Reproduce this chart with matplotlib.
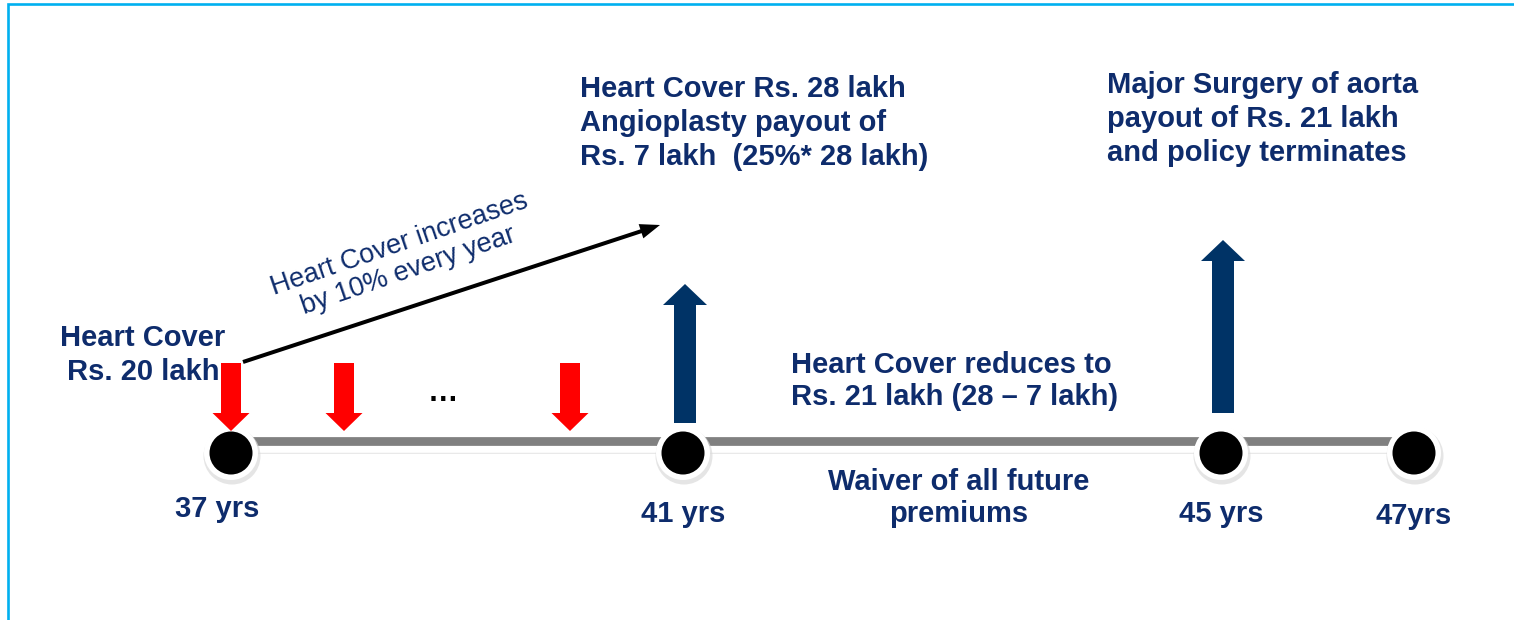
import matplotlib
matplotlib.use("Agg")
import matplotlib.pyplot as plt
from matplotlib.patches import Circle, FancyArrow
import numpy as np

plt.rcParams["font.family"] = ["Liberation Sans", "DejaVu Sans"]

# ── data ──────────────────────────────────────────────────────────────
node_ages    = [37, 41, 45, 47]
node_labels  = ["37 yrs", "41 yrs", "45 yrs", "47yrs"]
premium_ages = [37, 38, 40]            # red arrows (premiums paid)
claim_ages   = [41, 45]                # blue arrows (payouts)
claim_texts  = [
    "Heart Cover Rs. 28 lakh\nAngioplasty payout of\nRs. 7 lakh  (25%* 28 lakh)",
    "Major Surgery of aorta\npayout of Rs. 21 lakh\nand policy terminates",
]
start_text   = "Heart Cover\nRs. 20 lakh"
growth_text  = "Heart Cover increases\nby 10% every year"
reduce_text  = "Heart Cover reduces to\nRs. 21 lakh (28 \u2013 7 lakh)"
waiver_text  = "Waiver of all future\npremiums"

# ── layout (pixels) ───────────────────────────────────────────────────
node_px   = [231, 683, 1221, 1414]     # where each node age sits
line_y    = 441
dot_y     = 453
claim_top = [284, 240]
claim_bot = [423, 413]

NAVY  = "#0E2C6C"
ARROW = "#003366"
RED   = "#FF0000"
GREY  = "#808080"


def xpos(age):
    return np.interp(age, node_ages, node_px)


fig = plt.figure(figsize=(15.14, 6.2), dpi=100)
ax = fig.add_axes([0, 0, 1, 1])
ax.set_xlim(0, 1514)
ax.set_ylim(620, 0)
ax.axis("off")

# frame
ax.plot([7.5, 7.5, 1514], [620, 4, 4], color="#00B0F0", lw=1.9,
        solid_capstyle="butt", solid_joinstyle="miter")

# timeline
x0, x1 = xpos(node_ages[0]), xpos(node_ages[-1])
ax.plot([x0, x1], [line_y + 10, line_y + 10], color="#e3e3e3", lw=4,
        solid_capstyle="butt", zorder=1)
ax.plot([x0, x1], [line_y + 4, line_y + 4], color="white", lw=10.5,
        solid_capstyle="butt", zorder=2)
ax.plot([x0, x1], [line_y, line_y], color=GREY, lw=6.3,
        solid_capstyle="butt", zorder=3)

for age in node_ages:
    cx = xpos(age)
    ax.add_patch(Circle((cx + 1, dot_y + 3), 28.5, color="#dadada",
                        alpha=0.7, zorder=4, lw=0))
    ax.add_patch(Circle((cx, dot_y), 27, color="white", zorder=5, lw=0))
    ax.add_patch(Circle((cx, dot_y), 21.5, color="black", zorder=6, lw=0))

label_dy = [56, 61, 61, 63]
label_dx = [-14, 0, 0, 0]
for age, lab, dy, dx in zip(node_ages, node_labels, label_dy, label_dx):
    ax.text(xpos(age) + dx, dot_y + dy, lab, ha="center", va="center",
            fontsize=21, fontweight="bold", color=NAVY)

# premium arrows
for age in premium_ages:
    ax.add_patch(FancyArrow(xpos(age), 363, 0, 68, width=20,
                            head_width=37, head_length=18,
                            length_includes_head=True, color=RED,
                            lw=0, zorder=7))
ax.text(443, 393, "\u2026", ha="center", va="center", fontsize=22,
        fontweight="bold", color="black")

# claim arrows
for age, top, bot in zip(claim_ages, claim_top, claim_bot):
    cx = xpos(age) + 2
    ax.add_patch(FancyArrow(cx, bot, 0, top - bot, width=22,
                            head_width=44, head_length=21,
                            length_includes_head=True, color=ARROW,
                            lw=0, zorder=7))

ax.text(580, 123, claim_texts[0], ha="left", va="center", fontsize=21,
        fontweight="bold", color=NAVY, linespacing=1.27)
ax.text(1107, 119, claim_texts[1], ha="left", va="center", fontsize=21,
        fontweight="bold", color=NAVY, linespacing=1.27)

# start cover
ax.text(143, 355, start_text, ha="center", va="center", fontsize=21,
        fontweight="bold", color=NAVY, linespacing=1.25)

# growth arrow
ax.add_patch(FancyArrow(243, 362, 417, -137, width=4, head_width=15,
                        head_length=20, length_includes_head=True,
                        color="black", lw=0, zorder=7))
ax.text(404, 258, growth_text, ha="center", va="center", fontsize=19.5,
        color=NAVY, rotation=19, rotation_mode="anchor",
        linespacing=1.1)

# after claim texts
ax.text(791, 381, reduce_text, ha="left", va="center", fontsize=21,
        fontweight="bold", color=NAVY, linespacing=1.22)
ax.text(959, 498, waiver_text, ha="center", va="center", fontsize=21,
        fontweight="bold", color=NAVY, linespacing=1.22)

fig.savefig("out.png", dpi=100)
